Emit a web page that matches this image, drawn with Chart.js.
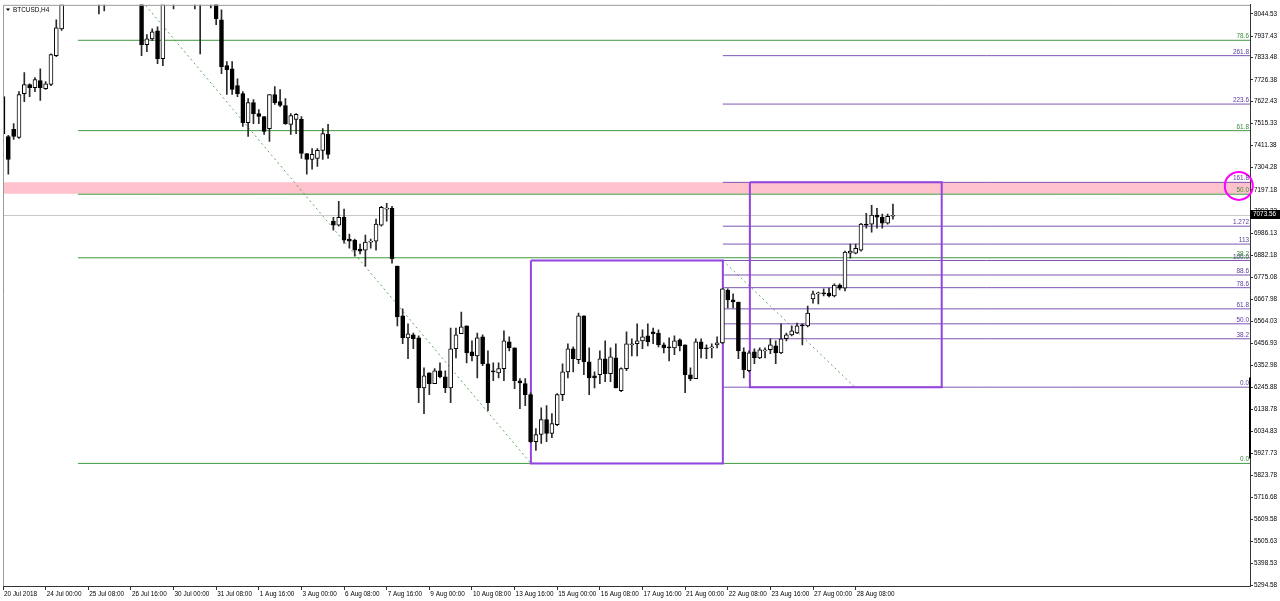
<!DOCTYPE html>
<html>
<head>
<meta charset="utf-8">
<script src="https://cdn.jsdelivr.net/npm/chart.js@4.4.1/dist/chart.umd.min.js"></script>
<style>
html,body{margin:0;padding:0;background:#ffffff;overflow:hidden;}
#wrap{width:1280px;height:601px;position:relative;}
canvas{display:block;}
</style>
</head>
<body>
<div id="wrap"><canvas id="c" width="1280" height="601"></canvas></div>
<script>
// ---------------- DATA ----------------
const symbolTitle = 'BTCUSD,H4';

// H4 candles, one entry per bar (bar 0 = 20 Jul 2018 16:00)
const openP = [
7646,7454,7488,7449,7660,7704,7689,7723,7684,7704,
7843,7972,8150,8270,8380,8330,8280,8200,8150,8110,
8170,8250,8290,8220,8180,8140,8120,7896,7924,7963,
7828,8180,8200,8150,8190,8170,8140,8120,8110,8150,
8120,8016,7795,7780,7699,7660,7521,7617,7564,7550,
7492,7656,7622,7603,7512,7536,7536,7372,7344,7348,
7387,7464,7046,7027,7065,6960,6955,6912,6907,6945,
6950,7027,7104,7108,6830,6590,6484,6499,6484,6244,
6316,6264,6326,6297,6244,6432,6504,6542,6417,6398,
6489,6360,6326,6316,6336,6465,6436,6278,6264,6211,
5985,6019,6091,6024,6067,6211,6321,6432,6379,6590,
6369,6302,6307,6384,6312,6388,6230,6336,6451,6456,
6470,6494,6513,6508,6451,6441,6436,6475,6451,6307,
6288,6465,6436,6436,6451,6460,6715,6667,6657,6417,
6326,6417,6388,6422,6427,6446,6412,6480,6499,6508,
6547,6542,6672,6696,6700,6700,6686,6739,6724,6892,
6892,6907,7032,7032,7075,7065,7036,7070
];
const highP = [
7670,7459,7516,7670,7761,7708,7737,7780,7718,7852,
8016,8190,8300,8420,8472,8400,8320,8260,8200,8190,
8280,8320,8310,8280,8230,8180,8140,7944,7972,7982,
8260,8270,8260,8230,8240,8210,8190,8160,8180,8200,
8170,8064,7814,7814,7732,7670,7636,7632,7584,7550,
7656,7694,7680,7636,7564,7564,7550,7372,7396,7396,
7492,7512,7065,7142,7104,6984,6960,6936,6979,6960,
7056,7118,7132,7118,6830,6624,6552,6508,6494,6340,
6316,6336,6364,6326,6532,6532,6609,6542,6470,6508,
6499,6422,6364,6364,6518,6489,6436,6288,6288,6220,
6048,6148,6158,6120,6216,6360,6456,6441,6604,6590,
6436,6321,6422,6470,6436,6456,6340,6513,6480,6552,
6523,6552,6532,6523,6460,6484,6494,6480,6451,6340,
6480,6480,6451,6456,6489,6720,6720,6696,6657,6436,
6422,6432,6436,6436,6480,6470,6552,6508,6542,6556,
6552,6638,6710,6705,6720,6724,6744,6744,6902,6936,
6936,7036,7084,7123,7108,7080,7080,7128
];
const lowP = [
7444,7272,7440,7444,7622,7646,7670,7627,7680,7699,
7838,7965,8120,8230,8300,8250,8180,8120,8044,8059,
8140,8200,8190,8150,8110,8100,7843,7862,7915,7804,
7795,8120,8068,8100,8140,8110,8068,7852,8095,8073,
7992,7756,7656,7656,7646,7502,7454,7516,7516,7464,
7430,7608,7598,7512,7464,7468,7348,7272,7296,7310,
7344,7348,7003,7022,6940,6916,6878,6888,6830,6916,
6907,7022,7046,6844,6542,6456,6384,6432,6172,6120,
6211,6264,6292,6220,6172,6388,6504,6364,6374,6292,
6350,6134,6278,6292,6278,6422,6240,6144,6158,5980,
5942,5976,5985,6004,6062,6182,6292,6321,6360,6307,
6211,6244,6264,6273,6273,6244,6225,6326,6398,6398,
6432,6446,6456,6441,6412,6374,6403,6422,6220,6278,
6288,6388,6384,6388,6436,6456,6628,6628,6384,6292,
6321,6360,6384,6388,6408,6360,6408,6470,6494,6504,
6451,6537,6652,6648,6686,6681,6681,6715,6710,6868,
6888,6902,7012,6993,7012,7012,7032,7056
];
const closeP = [
7468,7344,7454,7656,7704,7689,7728,7689,7708,7848,
7977,8150,8270,8380,8330,8280,8200,8150,8110,8170,
8250,8290,8220,8180,8140,8120,7896,7924,7958,7828,
8180,8200,8150,8190,8170,8140,8120,8110,8150,8120,
8020,7790,7776,7680,7660,7521,7617,7564,7550,7478,
7656,7617,7603,7516,7555,7560,7372,7344,7368,7387,
7468,7368,7027,7065,6955,6950,6907,6902,6945,6950,
7032,7113,7108,6864,6585,6484,6504,6480,6244,6302,
6264,6326,6297,6244,6432,6499,6537,6412,6398,6484,
6360,6172,6321,6336,6470,6436,6278,6268,6211,5985,
6019,6091,6024,6072,6211,6321,6432,6384,6590,6369,
6292,6292,6384,6312,6393,6244,6336,6456,6456,6470,
6489,6465,6504,6451,6436,6436,6470,6446,6307,6288,
6465,6432,6432,6441,6460,6720,6667,6657,6422,6331,
6412,6388,6427,6427,6451,6412,6480,6499,6518,6542,
6542,6604,6696,6700,6696,6686,6739,6724,6897,6902,
6916,7032,7027,7075,7065,7036,7070,7073.56
];

// time axis labels (bar index -> text)
const timeTickBars = [0,8,16,24,32,40,48,56,64,72,80,88,96,104,112,120,128,136,144,152,160];
const timeTickText = ['20 Jul 2018','24 Jul 00:00','25 Jul 08:00','26 Jul 16:00','30 Jul 00:00','31 Jul 08:00',
  '1 Aug 16:00','3 Aug 00:00','6 Aug 08:00','7 Aug 16:00','9 Aug 00:00','10 Aug 08:00','13 Aug 16:00',
  '15 Aug 00:00','16 Aug 08:00','17 Aug 16:00','21 Aug 00:00','22 Aug 08:00','23 Aug 16:00','27 Aug 00:00','28 Aug 08:00'];

// price axis labels
const priceTicks = [8044.53,7937.43,7833.48,7726.38,7622.43,7515.33,7411.38,7304.28,7197.18,7093.23,
  6986.13,6882.18,6775.08,6667.98,6564.03,6456.93,6352.98,6245.88,6138.78,6034.83,5927.73,
  5823.78,5716.68,5609.58,5505.63,5398.53,5294.58];

// Fibonacci retracement #1 (green): anchors and level prices
const fibGreenAnchors = [[14.07, 8472], [99.06, 5880]];
const fibGreenPrices  = [5880, 6870, 7176, 7482, 7917];
const fibGreenText    = ['0.0','38.2','50.0','61.8','78.6'];

// Fibonacci #2 (purple): anchors and level prices
const fibPurpleAnchors = [[135.08, 6857], [159.85, 6247]];
const fibPurplePrices  = [6247, 6480, 6552, 6624, 6726, 6787, 6857, 6936, 7022, 7233, 7610, 7843];
const fibPurpleText    = ['0.0','38.2','50.0','61.8','78.6','88.6','100.0','113','1.272','161.8','223.6','261.8'];

// rectangles: [barFrom, barTo, priceLow, priceHigh]
const boxRects = [[99.06, 135.08, 5880, 6857], [140.15, 176.15, 6247, 7233]];
// pink zone: [priceLow, priceHigh]
const zoneBand = [7178, 7233];
// current bid
const bidPrice = 7073.56;
// magenta circle marker [bar, price]
const circleMark = [231.9, 7216];
// dark marker on price axis [priceLow, priceHigh]
const axisMarker = [5904, 6293];

// ---------------- CHART ----------------
const X_MIN = 0, X_MAX = 234, Y_MIN = 5289.8, Y_MAX = 8087.7;
const FONT = '"Liberation Sans", Arial, sans-serif';
Chart.defaults.font.family = FONT;

const bodyData = openP.map((o, i) => ({x: i, y: [o, closeP[i]]}));
const wickData = openP.map((o, i) => ({x: i, y: [lowP[i], highP[i]]}));
const bodyColors = openP.map((o, i) => closeP[i] >= o ? '#ffffff' : '#000000');

const hLine = (price, from, color, order, width, dash) => ({
  type: 'line', data: [{x: from, y: price}, {x: X_MAX, y: price}],
  borderColor: color, borderWidth: width || 1, borderDash: dash || [], pointRadius: 0,
  fill: false, tension: 0, order: order
});

const datasets = [];
datasets.push({type: 'bar', data: bodyData, backgroundColor: bodyColors, borderColor: '#000000',
  borderWidth: 1, borderSkipped: false, barThickness: 4, minBarLength: 1, grouped: false, order: 0});
datasets.push({type: 'bar', data: wickData, backgroundColor: '#2a2a2a', borderWidth: 0,
  barThickness: 1, grouped: false, order: 1});

// circle marker
datasets.push({type: 'line', data: [{x: circleMark[0], y: circleMark[1]}], showLine: false,
  pointRadius: 14, pointBorderWidth: 2, pointBorderColor: '#ff00ff',
  pointBackgroundColor: 'rgba(0,0,0,0)', clip: false, order: -1});

// rectangles
boxRects.forEach(r => {
  datasets.push({type: 'line', data: [{x: r[0], y: r[3]}, {x: r[1], y: r[3]}, {x: r[1], y: r[2]},
    {x: r[0], y: r[2]}, {x: r[0], y: r[3]}], borderColor: '#9343e0', borderWidth: 2,
    pointRadius: 0, fill: false, tension: 0, order: 3});
});
// fib levels
fibGreenPrices.forEach(p => datasets.push(hLine(p, fibGreenAnchors[0][0], '#3f9a3f', 4, 1)));
fibPurplePrices.forEach(p => datasets.push(hLine(p, fibPurpleAnchors[0][0], '#7d55b2', 5, 1)));
// fib trend lines (dashed)
[fibGreenAnchors, fibPurpleAnchors].forEach(a => {
  datasets.push({type: 'line', data: a.map(p => ({x: p[0], y: p[1]})), borderColor: '#62a862',
    borderWidth: 1, borderDash: [2, 3], pointRadius: 0, fill: false, tension: 0, order: 6});
});
// bid line
datasets.push(hLine(bidPrice, X_MIN, '#c8c8c8', 7, 1));
// pink zone
datasets.push({type: 'line', data: [{x: X_MIN, y: zoneBand[0]}, {x: X_MAX, y: zoneBand[0]}],
  fill: {value: zoneBand[1]}, backgroundColor: '#ffc2cc', borderWidth: 0, pointRadius: 0, order: 20});

const overlayPlugin = {
  id: 'overlayPlugin',
  afterDatasetsDraw(chart) {
    const {ctx, chartArea: a, scales: {y}} = chart;
    ctx.save();
    ctx.font = '6.4px ' + FONT;
    ctx.textAlign = 'right';
    ctx.textBaseline = 'bottom';
    fibPurplePrices.forEach((p, k) => {
      ctx.fillStyle = '#5b3c9c';
      ctx.fillText(fibPurpleText[k], a.right - 1, y.getPixelForValue(p) - 0.5);
    });
    fibGreenPrices.forEach((p, k) => {
      ctx.fillStyle = '#3a8a3a';
      ctx.fillText(fibGreenText[k], a.right - 1, y.getPixelForValue(p) - 0.5);
    });
    // frame (top / left)
    ctx.strokeStyle = '#9a9a9a';
    ctx.lineWidth = 1;
    ctx.beginPath();
    ctx.moveTo(a.left + 0.5, a.bottom);
    ctx.lineTo(a.left + 0.5, a.top + 0.5);
    ctx.lineTo(a.right, a.top + 0.5);
    ctx.stroke();
    // title
    ctx.fillStyle = '#000';
    ctx.beginPath();
    ctx.moveTo(6, 8.5); ctx.lineTo(10, 8.5); ctx.lineTo(8, 11); ctx.closePath(); ctx.fill();
    ctx.textAlign = 'left';
    ctx.textBaseline = 'middle';
    ctx.fillText(symbolTitle, 13, 10);
    ctx.restore();
  },
  afterDraw(chart) {
    const {ctx, chartArea: a, scales: {y}} = chart;
    ctx.save();
    // axis marker
    ctx.strokeStyle = '#000';
    ctx.lineWidth = 2;
    ctx.beginPath();
    ctx.moveTo(a.right, y.getPixelForValue(axisMarker[1]));
    ctx.lineTo(a.right, y.getPixelForValue(axisMarker[0]));
    ctx.stroke();
    // bid price box
    const py = y.getPixelForValue(bidPrice);
    ctx.fillStyle = '#000';
    ctx.fillRect(a.right, Math.round(py) - 5, 30, 9);
    ctx.fillStyle = '#fff';
    ctx.font = '6.4px ' + FONT;
    ctx.textAlign = 'left';
    ctx.textBaseline = 'middle';
    ctx.fillText(bidPrice.toFixed(2), a.right + 3, Math.round(py) - 0.5);
    ctx.restore();
  }
};

new Chart(document.getElementById('c'), {
  type: 'bar',
  data: {datasets: datasets},
  plugins: [overlayPlugin],
  options: {
    responsive: false,
    animation: false,
    events: [],
    layout: {autoPadding: false, padding: {left: 3, top: 3, right: 0, bottom: 0}},
    plugins: {legend: {display: false}, tooltip: {enabled: false}},
    scales: {
      x: {
        type: 'linear', position: 'bottom', min: X_MIN, max: X_MAX, offset: false,
        grid: {display: true, offset: false, drawOnChartArea: false, drawTicks: true, tickLength: 4, color: '#333'},
        border: {display: true, color: '#333'},
        afterBuildTicks: s => { s.ticks = timeTickBars.map(v => ({value: v})); },
        afterFit: s => { s.height = 15; },
        ticks: {
          autoSkip: false, maxRotation: 0, minRotation: 0, align: 'start', labelOffset: 1, padding: 0,
          color: '#000', font: {size: 6.4},
          callback: v => { const k = timeTickBars.indexOf(v); return k >= 0 ? timeTickText[k] : ''; }
        }
      },
      y: {
        type: 'linear', position: 'right', min: Y_MIN, max: Y_MAX,
        grid: {display: true, drawOnChartArea: false, drawTicks: true, tickLength: 3, color: '#333'},
        border: {display: true, color: '#333'},
        afterBuildTicks: s => { s.ticks = priceTicks.map(v => ({value: v})); },
        afterFit: s => { s.width = 30; },
        ticks: {autoSkip: false, padding: 1, color: '#000', font: {size: 6.4}, callback: v => v.toFixed(2)}
      }
    }
  }
});
</script>
</body>
</html>
